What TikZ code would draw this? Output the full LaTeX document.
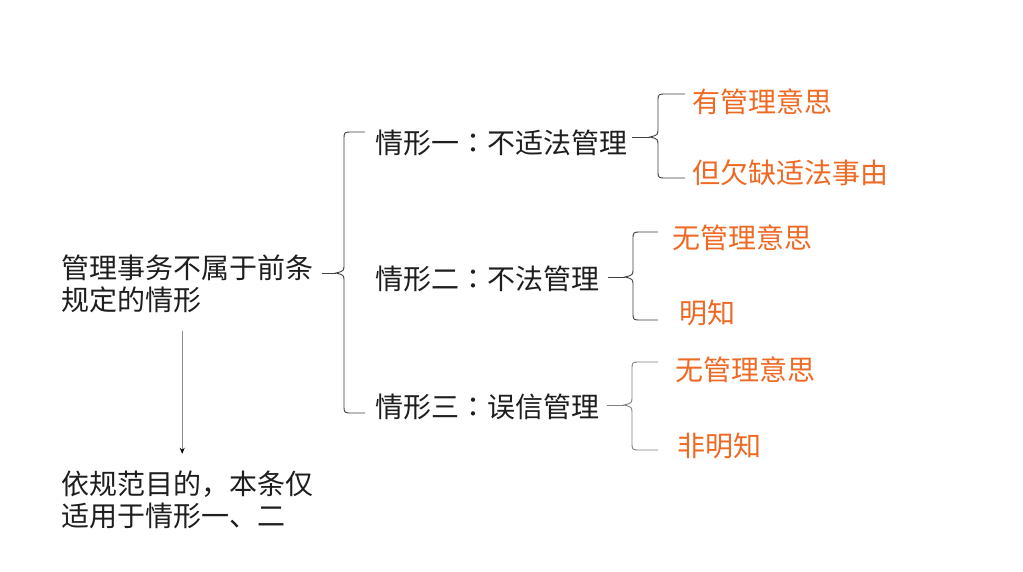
\documentclass[tikz,border=0pt]{standalone}
\usepackage{fontspec}
\newfontfamily\cjk{Noto Sans CJK SC}
\newfontfamily\cjktc{Noto Sans CJK TC}
\usetikzlibrary{calc,arrows.meta}

\definecolor{ink}{HTML}{1E1E1E}
\definecolor{hlorange}{HTML}{EE6A24}
\definecolor{brcgray}{HTML}{3F3F3F}

% centred full-width colon
\newcommand{\midcolon}{{\cjktc ：}}

% left curly brace through top tip, spine middle, bottom tip, plus a stem
\newcommand{\curlybrace}[5][]{%
  \draw[brc,#1] let \p1=(#2), \p2=(#3), \p3=(#4) in
    (\p1) -- (\x2+8pt,\y1) .. controls (\x2,\y1) .. (\x2,\y1-8pt)
    -- (\x2,\y2+9pt) .. controls (\x2,\y2+2pt) .. (\x2-8pt,\y2)
    .. controls (\x2,\y2-2pt) .. (\x2,\y2-9pt)
    -- (\x2,\y3+8pt) .. controls (\x2,\y3) .. (\x2+8pt,\y3) -- (\p3);
  \draw[brc,#1] let \p2=(#3) in (#5) -- (\x2-8pt,\y2);}

\begin{document}
\begin{tikzpicture}[x=1pt, y=-1pt, >=stealth,
    txt/.style={anchor=west, inner sep=0pt, align=left, text=ink,
                font=\cjk\fontsize{28}{32}\selectfont},
    hl/.style={txt, text=hlorange},
    brc/.style={draw=brcgray, line width=0.9pt}]

    \useasboundingbox (0,0) rectangle (1023,571);

    % left column
    \node[txt] (rule) at (61,284) {管理事务不属于前条\\规定的情形};
    \node[txt] (scope) at (61,500) {依规范目的，本条仅\\适用于情形一、二};

    % the three situations
    \node[txt] (sit1) at (375,143) {情形一\midcolon 不适法管理};
    \node[txt] (sit2) at (375,279) {情形二\midcolon 不法管理};
    \node[txt] (sit3) at (375,407) {情形三\midcolon 误信管理};

    % their elements
    \node[hl] (will1) at (692,102) {有管理意思};
    \node[hl] (cause1) at (692,173) {但欠缺适法事由};
    \node[hl] (will2) at (672,238) {无管理意思};
    \node[hl] (know2) at (679,313) {明知};
    \node[hl] (will3) at (675,370) {无管理意思};
    \node[hl] (know3) at (677,446) {非明知};

    % brace tips
    \coordinate (b0t) at (365,132); \coordinate (b0m) at (344,273);
    \coordinate (b0b) at (365,413); \coordinate (b0s) at (322,273);
    \coordinate (b1t) at (685,94);  \coordinate (b1m) at (658,137);
    \coordinate (b1b) at (685,178); \coordinate (b1s) at (632,137);
    \coordinate (b2t) at (658,232); \coordinate (b2m) at (633,277);
    \coordinate (b2b) at (658,320); \coordinate (b2s) at (608,277);
    \coordinate (b3t) at (658,362); \coordinate (b3m) at (632,405);
    \coordinate (b3b) at (658,450); \coordinate (b3s) at (607,405);

    \curlybrace{b0t}{b0m}{b0b}{b0s}
    \curlybrace{b1t}{b1m}{b1b}{b1s}
    \curlybrace{b2t}{b2m}{b2b}{b2s}
    \curlybrace[draw=black!50]{b3t}{b3m}{b3b}{b3s}

    \draw[-{Stealth[black, length=6pt, width=5pt]}, draw=black!45, line width=0.7pt]
        ([xshift=-5pt,yshift=-18pt]rule.south) -- ([xshift=-5pt,yshift=17pt]scope.north);

\end{tikzpicture}
\end{document}
